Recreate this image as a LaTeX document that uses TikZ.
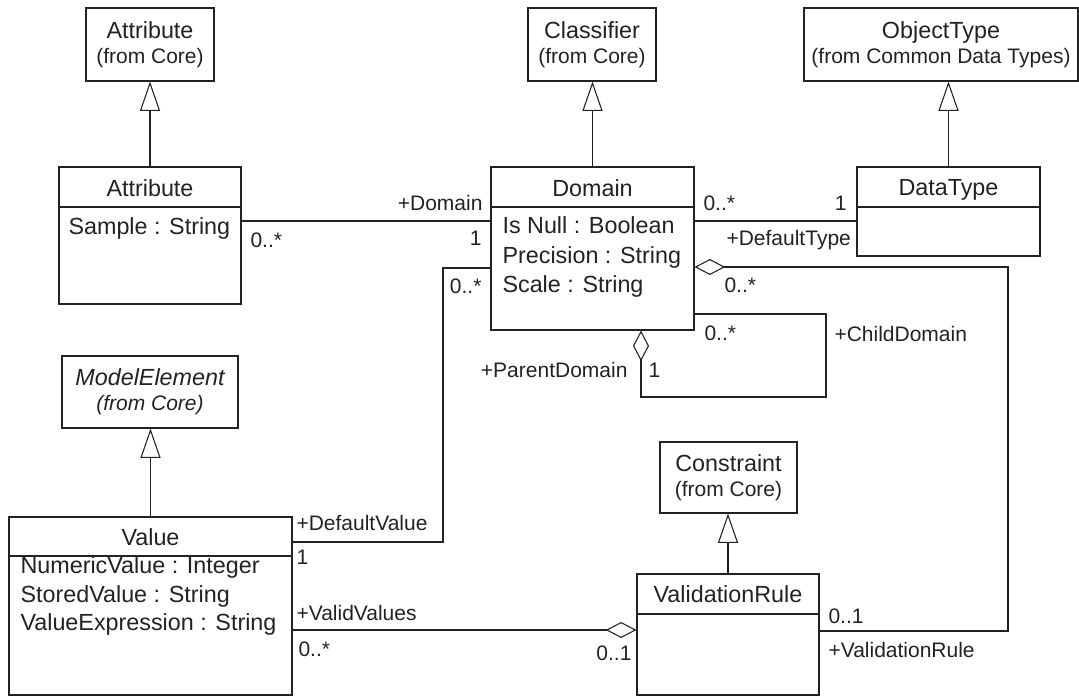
\documentclass[tikz,border=0pt]{standalone}
\usepackage{fontspec}
\setmainfont{Liberation Sans}
\usetikzlibrary{arrows.meta,fit}
\definecolor{ink}{HTML}{222222}
\begin{document}
\begin{tikzpicture}[x=0.75pt,y=-0.75pt,
  line width=0.8pt, draw=ink, text=ink,
  box/.style={draw, inner sep=0pt, line width=0.8pt},
  cname/.style={font=\fontsize{17.5}{21}\selectfont, anchor=base, inner sep=0pt},
  attrtxt/.style={font=\fontsize{17.5}{21}\selectfont, anchor=base west, inner sep=0pt},
  pkg/.style={font=\fontsize{17.5}{18.75}\selectfont, align=center, inner sep=0pt},
  lbl/.style={font=\fontsize{15.75}{18}\selectfont, inner sep=0pt},
  lblL/.style={lbl, anchor=base west},
  lblR/.style={lbl, anchor=base east},
  gen/.style={-{Triangle[open,length=22pt,width=15pt]}},
  agg/.style={-{Diamond[open,length=23pt,width=12pt]}},
  aggstart/.style={{Diamond[open,length=23pt,width=12pt]}-},
]
\useasboundingbox (0,0) rectangle (1079,696);

% ---- class and package boxes ----
\node[box, fit={(86,8) (214,81)}] (attrcore) {};
\node[box, fit={(59,167) (241,304)}] (attr) {};
\node[box, fit={(528,8) (656,81)}] (classifier) {};
\node[box, fit={(491,167) (694,330)}] (domain) {};
\node[box, fit={(804,8) (1078,81)}] (objtype) {};
\node[box, fit={(857,167) (1040,256)}] (datatype) {};
\node[box, fit={(62,356) (238,428)}] (modelel) {};
\node[box, fit={(9,517) (292,695)}] (value) {};
\node[box, fit={(660,442) (797,513)}] (constraint) {};
\node[box, fit={(637,574) (819,695)}] (vrule) {};

% ---- compartment dividers ----
\draw (attr.west |- 0,207) -- (attr.east |- 0,207);
\draw (domain.west |- 0,207) -- (domain.east |- 0,207);
\draw (datatype.west |- 0,207) -- (datatype.east |- 0,207);
\draw (value.west |- 0,556) -- (value.east |- 0,556);
\draw (vrule.west |- 0,614) -- (vrule.east |- 0,614);

% ---- imported classes ----
\node[pkg] (attrcoreT) at (attrcore.center) {Attribute\\{\fontsize{15.75}{18.75}\selectfont (from Core)}};
\node[pkg] (classifierT) at (classifier.center) {Classifier\\{\fontsize{15.75}{18.75}\selectfont (from Core)}};
\node[pkg] (objtypeT) at (objtype.center) {ObjectType\\{\fontsize{15.75}{18.75}\selectfont (from Common Data Types)}};
\node[pkg, font=\fontsize{17.5}{18.75}\selectfont\itshape] (modelelT) at (modelel.center) {ModelElement\\{\fontsize{15.75}{18.75}\selectfont (from Core)}};
\node[pkg] (constraintT) at (constraint.center) {Constraint\\{\fontsize{15.75}{18.75}\selectfont (from Core)}};

% ---- class names ----
\node[cname] (attrN) at (150,196) {Attribute};
\node[cname] (domainN) at (592.5,196) {Domain};
\node[cname] (datatypeN) at (948.5,195) {DataType};
\node[cname] (valueN) at (150.5,545) {Value};
\node[cname] (vruleN) at (728,602) {ValidationRule};

% ---- attributes ----
\node[attrtxt] (a1) at (68,234) {Sample : String};
\node[attrtxt] (d1) at (502,233) {Is Null : Boolean};
\node[attrtxt] (d2) at (502,263) {Precision : String};
\node[attrtxt] (d3) at (502,292) {Scale : String};
\node[attrtxt] (v1) at (20,573) {NumericValue : Integer};
\node[attrtxt] (v2) at (20,602) {StoredValue : String};
\node[attrtxt] (v3) at (20,630) {ValueExpression : String};

% ---- generalizations ----
\draw[gen] (attr.north) -- (attr.north |- attrcore.south);
\draw[gen] (domain.north) -- (domain.north |- classifier.south);
\draw[gen] (datatype.north) -- (datatype.north |- objtype.south);
\draw[gen] (value.north) -- (value.north |- modelel.south);
\draw[gen] (vrule.north) -- (vrule.north |- constraint.south);

% ---- associations ----
\draw (attr.east |- 0,221) -- (domain.west |- 0,221);
\node[lblR] (l1) at (483,210) {+Domain};
\node[lblR] (l2) at (482,245) {1};
\node[lblL] (l3) at (250,247) {0..*};

\draw (domain.east |- 0,221) -- (datatype.west |- 0,221);
\node[lblL] (l4) at (703,210) {0..*};
\node[lblR] (l5) at (847,210) {1};
\node[lblL] (l6) at (726,245) {+DefaultType};

\coordinate (dv1) at (443,542);
\coordinate (dv2) at (443,268);
\draw (value.east |- dv1) -- (dv1) -- (dv2) -- (domain.west |- dv2);
\node[lblR] (l7) at (482,293) {0..*};
\node[lblL] (l8) at (296,530) {+DefaultValue};
\node[lblL] (l9) at (296,564) {1};

\draw[agg] (value.east |- 0,630) -- (vrule.west |- 0,630);
\node[lblL] (l10) at (296,620) {+ValidValues};
\node[lblL] (l11) at (298,656) {0..*};
\node[lblR] (l12) at (632,660) {0..1};

\coordinate (vr1) at (1008,267);
\coordinate (vr2) at (1008,631);
\draw[aggstart] (domain.east |- vr1) -- (vr1) -- (vr2) -- (vrule.east |- vr2);
\node[lblL] (l13) at (724,292) {0..*};
\node[lblL] (l14) at (828,623) {0..1};
\node[lblL] (l15) at (828,657) {+ValidationRule};

\coordinate (sa1) at (826,314);
\coordinate (sa2) at (826,397);
\coordinate (sa3) at (641,397);
\draw[agg] (domain.east |- sa1) -- (sa1) -- (sa2) -- (sa3) -- (sa3 |- domain.south);
\node[lblL] (l16) at (704,340) {0..*};
\node[lblL] (l17) at (834,341) {+ChildDomain};
\node[lblR] (l18) at (628,377) {+ParentDomain};
\node[lblL] (l19) at (648,377) {1};
\end{tikzpicture}
\end{document}
